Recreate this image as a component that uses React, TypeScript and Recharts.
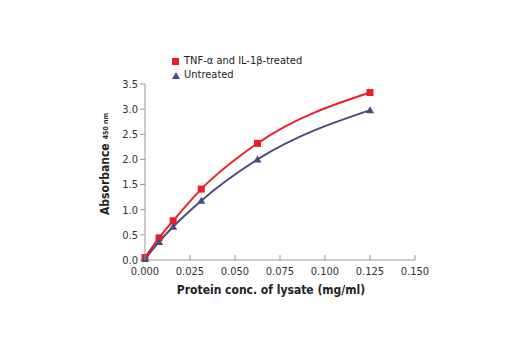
import { LineChart, Line, XAxis, YAxis } from 'recharts';

const conc = [0, 0.0078125, 0.015625, 0.03125, 0.0625, 0.125];
const treated = [0.05, 0.44, 0.78, 1.41, 2.32, 3.33];
const untreated = [0.02, 0.36, 0.66, 1.18, 2.0, 2.98];
const xTicks = [0, 0.025, 0.05, 0.075, 0.1, 0.125, 0.15];
const yTicks = [0, 0.5, 1, 1.5, 2, 2.5, 3, 3.5];

const RED = '#ec1c2a';
const NAVY = '#4b4a7c';
const FONT = '"DejaVu Sans Condensed", "Liberation Sans", Arial, sans-serif';

const data = conc.map((c, i) => ({ conc: c, treated: treated[i], untreated: untreated[i] }));

const Square = ({ cx, cy }: any) => (
  <rect x={cx - 3.5} y={cy - 3.5} width={7} height={7} fill={RED} />
);

const Triangle = ({ cx, cy }: any) => (
  <polygon points={`${cx},${cy - 4} ${cx + 4},${cy + 3} ${cx - 4},${cy + 3}`} fill={NAVY} />
);

// x ticks point up into the plot, labels sit below the axis
const XTick = ({ x, y, payload }: any) => (
  <g>
    <line x1={x} y1={y} x2={x} y2={y - 5} stroke="#999" strokeWidth={1} />
    <text x={x} y={y + 15} textAnchor="middle" fontSize={11} fill="#333" fontFamily={FONT}>
      {payload.value.toFixed(3)}
    </text>
  </g>
);

const LegendBox = () => (
  <div
    style={{
      position: 'absolute',
      left: 164,
      top: 46,
      fontFamily: FONT,
      fontSize: 11,
      color: '#222',
      lineHeight: '14px',
    }}
  >
    <div style={{ display: 'flex', alignItems: 'center' }}>
      <span style={{ width: 7, height: 7, background: RED, display: 'inline-block', marginRight: 5 }} />
      TNF-α and IL-1β-treated
    </div>
    <div style={{ display: 'flex', alignItems: 'center' }}>
      <svg width={8} height={7} style={{ marginRight: 4 }}>
        <polygon points="4,0 8,7 0,7" fill={NAVY} />
      </svg>
      Untreated
    </div>
  </div>
);

const YLabel = ({ viewBox }: any) => {
  const cx = 101;
  const cy = viewBox.y + viewBox.height / 2 - 8;
  return (
    <text transform={`translate(${cx},${cy}) rotate(-90)`} textAnchor="middle" fontFamily={FONT} fill="#222">
      <tspan fontSize={12} fontWeight="bold">Absorbance</tspan>
      <tspan fontSize={7} fontWeight="bold" dx={4} dy={-1}>450 nm</tspan>
    </text>
  );
};

const XLabel = () => (
  <text x={263} y={286} textAnchor="middle" fontFamily={FONT} fontSize={12} fontWeight="bold" fill="#222">
    Protein conc. of lysate (mg/ml)
  </text>
);

export default function App() {
  return (
    <div style={{ position: 'relative', width: 520, height: 350 }}>
      <LineChart width={520} height={350} data={data} margin={{ top: 76, right: 113, bottom: 68, left: 97 }}>
        <XAxis
          dataKey="conc"
          type="number"
          domain={[0, 0.15]}
          ticks={xTicks}
          tick={<XTick />}
          tickLine={false}
          tickSize={0}
          tickMargin={0}
          height={30}
          axisLine={{ stroke: '#999' }}
          interval={0}
          label={<XLabel />}
        />
        <YAxis
          type="number"
          domain={[0, 3.5]}
          ticks={yTicks}
          tickFormatter={(v: number) => v.toFixed(1)}
          width={40}
          tickSize={5}
          tickMargin={2}
          axisLine={{ stroke: '#999' }}
          tickLine={{ stroke: '#999' }}
          tick={{ fontSize: 11, fill: '#333', fontFamily: FONT }}
          interval={0}
          label={<YLabel />}
        />
        <Line
          dataKey="treated"
          type="monotone"
          stroke={RED}
          strokeWidth={2}
          dot={<Square />}
          isAnimationActive={false}
        />
        <Line
          dataKey="untreated"
          type="monotone"
          stroke={NAVY}
          strokeWidth={2}
          dot={<Triangle />}
          isAnimationActive={false}
        />
      </LineChart>
      <LegendBox />
    </div>
  );
}
